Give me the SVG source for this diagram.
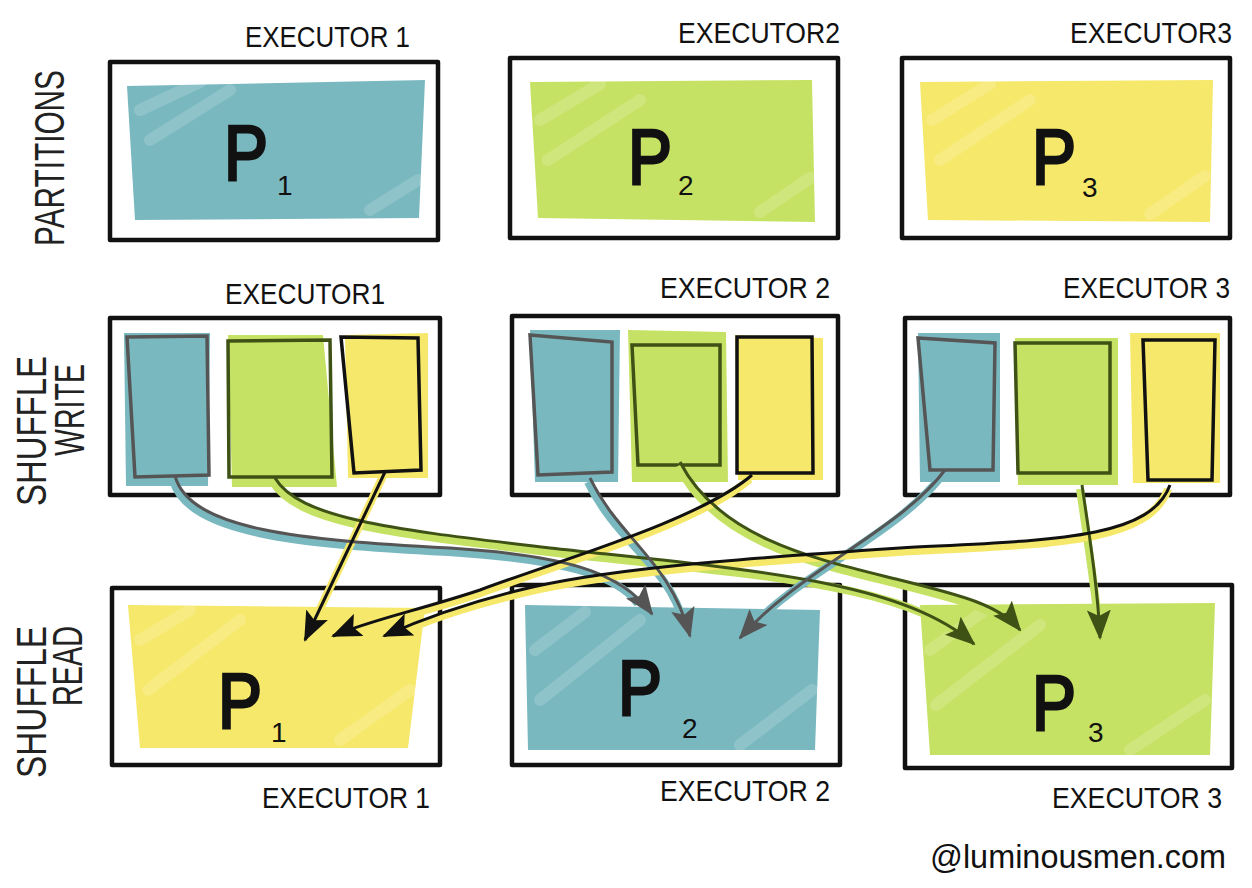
<svg xmlns="http://www.w3.org/2000/svg" width="1252" height="888" viewBox="0 0 1252 888">
<defs>
<style>
.frame{fill:#fff;stroke:#111;stroke-width:4.5;stroke-linejoin:round}
.blue{fill:#7ab8c0}
.green{fill:#c6e264}
.yellow{fill:#f6e86a}
.olB{fill:none;stroke:#555;stroke-width:3.5}
.olG{fill:none;stroke:#3f5215;stroke-width:3.5}
.olY{fill:none;stroke:#111;stroke-width:3.5}
.lbl{font-family:"Liberation Sans",Arial,sans-serif;font-size:30px;fill:#111}
.side{font-family:"Liberation Sans",Arial,sans-serif;font-size:42px;fill:#222}
.bigP{font-family:"Liberation Sans",Arial,sans-serif;font-size:78px;fill:#111;stroke:#111;stroke-width:3}
.sub{font-family:"Liberation Sans",Arial,sans-serif;font-size:28px;fill:#111}
.hatch{fill:none;stroke:#fff;stroke-opacity:0.16;stroke-width:12;stroke-linecap:round}
.bandB{fill:none;stroke:#7ab8c0;stroke-width:8}
.bandG{fill:none;stroke:#c6e264;stroke-width:8}
.bandY{fill:none;stroke:#f6e86a;stroke-width:8}
.lnB{fill:none;stroke:#555;stroke-width:3}
.lnG{fill:none;stroke:#3f5215;stroke-width:3}
.lnY{fill:none;stroke:#111;stroke-width:3}
</style>
<marker id="hB" viewBox="0 0 30 24" refX="28" refY="12" markerWidth="30" markerHeight="24" markerUnits="userSpaceOnUse" orient="auto"><path d="M0,0 L30,12 L0,24 L6,12 z" fill="#555"/></marker>
<marker id="hG" viewBox="0 0 30 24" refX="28" refY="12" markerWidth="30" markerHeight="24" markerUnits="userSpaceOnUse" orient="auto"><path d="M0,0 L30,12 L0,24 L6,12 z" fill="#3f5215"/></marker>
<marker id="hY" viewBox="0 0 30 24" refX="28" refY="12" markerWidth="30" markerHeight="24" markerUnits="userSpaceOnUse" orient="auto"><path d="M0,0 L30,12 L0,24 L6,12 z" fill="#111"/></marker>
</defs>
<rect width="1252" height="888" fill="#fff"/>

<!-- side labels -->
<g id="label-partitions"><text class="side" transform="translate(64,246) rotate(-90)" textLength="176" lengthAdjust="spacingAndGlyphs">PARTITIONS</text></g>
<g id="label-shuffle-write">
<text class="side" transform="translate(46,506) rotate(-90)" textLength="150" lengthAdjust="spacingAndGlyphs">SHUFFLE</text>
<text class="side" transform="translate(84,456) rotate(-90)" textLength="92" lengthAdjust="spacingAndGlyphs">WRITE</text>
</g>
<g id="label-shuffle-read">
<text class="side" transform="translate(46,778) rotate(-90)" textLength="152" lengthAdjust="spacingAndGlyphs">SHUFFLE</text>
<text class="side" transform="translate(82,706) rotate(-90)" textLength="80" lengthAdjust="spacingAndGlyphs">READ</text>
</g>

<!-- row 1: partitions -->
<g id="part-1">
<text class="lbl" x="245" y="47" textLength="165" lengthAdjust="spacingAndGlyphs">EXECUTOR 1</text>
<rect class="frame" x="110" y="62" width="328" height="178"/>
<polygon class="blue" points="127,86 425,80 419,218 135,220"/>
<path class="hatch" d="M140,110 L200,82 M150,140 L230,90 M370,210 L418,180"/>
<text class="bigP" x="224" y="180" textLength="44" lengthAdjust="spacingAndGlyphs">P</text><text class="sub" x="277" y="195">1</text>
</g>
<g id="part-2">
<text class="lbl" x="678" y="43" textLength="162" lengthAdjust="spacingAndGlyphs">EXECUTOR2</text>
<rect class="frame" x="510" y="58" width="328" height="180"/>
<polygon class="green" points="530,82 812,80 815,222 538,218"/>
<path class="hatch" d="M540,120 L600,84 M548,160 L640,100 M760,212 L810,178"/>
<text class="bigP" x="628" y="184" textLength="44" lengthAdjust="spacingAndGlyphs">P</text><text class="sub" x="678" y="195">2</text>
</g>
<g id="part-3">
<text class="lbl" x="1070" y="43" textLength="162" lengthAdjust="spacingAndGlyphs">EXECUTOR3</text>
<rect class="frame" x="902" y="58" width="328" height="180"/>
<polygon class="yellow" points="920,82 1213,80 1210,222 928,220"/>
<path class="hatch" d="M932,120 L990,84 M940,160 L1030,100 M1150,214 L1205,176"/>
<text class="bigP" x="1032" y="184" textLength="44" lengthAdjust="spacingAndGlyphs">P</text><text class="sub" x="1082" y="197">3</text>
</g>

<!-- row 2: shuffle write -->
<g id="write-1">
<text class="lbl" x="225" y="304" textLength="160" lengthAdjust="spacingAndGlyphs">EXECUTOR1</text>
<rect class="frame" x="110" y="318" width="330" height="177"/>
<polygon class="blue" points="124,333 210,333 208,486 126,486"/>
<polygon class="olB" points="127,337 207,336 209,475 135,477"/>
<polygon class="green" points="228,335 323,335 337,487 232,487"/>
<polygon class="olG" points="228,341 330,340 332,477 229,477"/>
<polygon class="yellow" points="345,335 428,333 428,478 348,478"/>
<polygon class="olY" points="341,337 418,338 421,470 354,473"/>
</g>
<g id="write-2">
<text class="lbl" x="660" y="298" textLength="170" lengthAdjust="spacingAndGlyphs">EXECUTOR 2</text>
<rect class="frame" x="512" y="316" width="326" height="179"/>
<polygon class="blue" points="530,330 620,330 618,482 535,482"/>
<polygon class="olB" points="530,335 612,342 612,472 538,475"/>
<polygon class="green" points="628,330 726,332 728,482 632,482"/>
<polygon class="olG" points="632,345 720,345 720,465 638,465"/>
<polygon class="yellow" points="735,335 823,338 823,480 738,480"/>
<polygon class="olY" points="737,337 812,337 813,473 737,473"/>
</g>
<g id="write-3">
<text class="lbl" x="1063" y="298" textLength="167" lengthAdjust="spacingAndGlyphs">EXECUTOR 3</text>
<rect class="frame" x="905" y="318" width="325" height="177"/>
<polygon class="blue" points="918,333 1000,333 1000,482 920,482"/>
<polygon class="olB" points="918,338 995,343 993,470 930,470"/>
<polygon class="green" points="1015,338 1118,338 1118,485 1018,485"/>
<polygon class="olG" points="1015,343 1110,343 1110,473 1018,473"/>
<polygon class="yellow" points="1130,333 1220,333 1220,483 1133,483"/>
<polygon class="olY" points="1143,340 1215,340 1212,480 1148,480"/>
</g>

<!-- row 3: shuffle read -->
<g id="read-1">
<rect class="frame" x="112" y="588" width="328" height="177"/>
<polygon class="yellow" points="128,605 425,608 408,748 140,748"/>
<path class="hatch" d="M140,640 L190,610 M148,690 L240,620 M340,740 L410,690"/>
<text class="bigP" x="218" y="728" textLength="44" lengthAdjust="spacingAndGlyphs">P</text><text class="sub" x="271" y="742">1</text>
<text class="lbl" x="262" y="808" textLength="168" lengthAdjust="spacingAndGlyphs">EXECUTOR 1</text>
</g>
<g id="read-2">
<rect class="frame" x="512" y="585" width="328" height="180"/>
<polygon class="blue" points="525,605 820,610 815,750 528,750"/>
<path class="hatch" d="M535,650 L585,612 M540,700 L640,620 M740,745 L812,690"/>
<text class="bigP" x="618" y="715" textLength="44" lengthAdjust="spacingAndGlyphs">P</text><text class="sub" x="682" y="738">2</text>
<text class="lbl" x="660" y="801" textLength="170" lengthAdjust="spacingAndGlyphs">EXECUTOR 2</text>
</g>
<g id="read-3">
<rect class="frame" x="905" y="585" width="327" height="183"/>
<polygon class="green" points="920,605 1215,603 1210,755 930,755"/>
<path class="hatch" d="M930,650 L985,610 M936,705 L1040,625 M1130,750 L1205,700"/>
<text class="bigP" x="1032" y="730" textLength="44" lengthAdjust="spacingAndGlyphs">P</text><text class="sub" x="1088" y="742">3</text>
<text class="lbl" x="1052" y="808" textLength="170" lengthAdjust="spacingAndGlyphs">EXECUTOR 3</text>
</g>

<!-- connectors -->
<g id="connectors">
<g transform="translate(-2,4)">
<path class="bandB" d="M175,476 C190,530 300,540 450,548 C560,555 620,570 640,600"/>
<path class="bandG" d="M275,478 C300,520 400,530 550,548 C750,570 900,580 960,630"/>
<path class="bandY" d="M385,472 L312,626"/>
<path class="bandB" d="M590,478 C620,540 670,560 686,620"/>
<path class="bandG" d="M680,462 C720,540 820,560 900,580 C960,595 995,605 1010,620"/>
<path class="bandY" d="M752,475 C700,520 560,560 480,590 C420,610 375,620 350,630"/>
<path class="bandB" d="M945,470 C900,530 800,570 752,625"/>
<path class="bandG" d="M1082,485 C1090,540 1098,590 1100,620"/>
<path class="bandY" d="M1170,485 C1150,540 1050,540 900,548 C720,560 600,570 520,590 C460,605 420,620 400,630"/>
</g>
<path class="lnB" marker-end="url(#hB)" d="M175,476 C190,530 300,540 450,548 C560,555 620,570 652,614"/>
<path class="lnG" marker-end="url(#hG)" d="M275,478 C300,520 400,530 550,548 C750,570 900,580 974,644"/>
<path class="lnY" marker-end="url(#hY)" d="M385,472 L305,640"/>
<path class="lnB" marker-end="url(#hB)" d="M590,478 C620,540 670,560 690,636"/>
<path class="lnG" marker-end="url(#hG)" d="M680,462 C720,540 820,560 900,580 C960,595 1000,605 1020,630"/>
<path class="lnY" marker-end="url(#hY)" d="M752,475 C700,520 560,560 480,590 C420,610 370,620 333,636"/>
<path class="lnB" marker-end="url(#hB)" d="M945,470 C900,530 800,570 740,638"/>
<path class="lnG" marker-end="url(#hG)" d="M1082,485 C1090,540 1098,590 1100,638"/>
<path class="lnY" marker-end="url(#hY)" d="M1170,485 C1150,540 1050,540 900,548 C720,560 600,570 520,590 C460,605 420,620 384,636"/>
</g>

<text id="watermark" x="930" y="868" font-family="Liberation Sans, Arial, sans-serif" font-size="34" fill="#111" textLength="296" lengthAdjust="spacingAndGlyphs">@luminousmen.com</text>
</svg>
